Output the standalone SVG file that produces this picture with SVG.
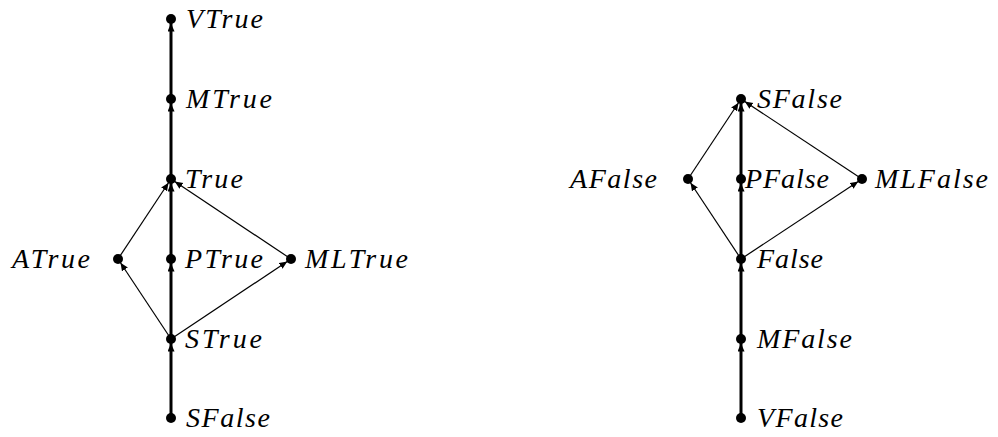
<svg xmlns="http://www.w3.org/2000/svg" width="998" height="437" viewBox="0 0 998 437">
<style>
.bg{fill:#fff}
.thick{stroke:#000;stroke-width:3;fill:none}
.thin{stroke:#000;stroke-width:1.2;fill:none}
.dot{fill:#000}
text{font-family:"Liberation Serif",serif;font-style:italic;font-size:28px;fill:#000}
</style>
<defs>
<marker id="ah" markerUnits="userSpaceOnUse" markerWidth="16" markerHeight="10" viewBox="0 0 16 10" refX="12.5" refY="3.5" orient="auto">
<path d="M0,0 L8,3.5 L0,7 z" fill="#000"/>
</marker>
</defs>
<rect class="bg" x="0" y="0" width="998" height="437"/>
<g id="connectors">
<line class="thick" x1="171" y1="418" x2="171" y2="339" marker-end="url(#ah)"/>
<line class="thick" x1="171" y1="339" x2="171" y2="259" marker-end="url(#ah)"/>
<line class="thick" x1="171" y1="259" x2="171" y2="179" marker-end="url(#ah)"/>
<line class="thick" x1="171" y1="179" x2="171" y2="99" marker-end="url(#ah)"/>
<line class="thick" x1="171" y1="99" x2="171" y2="19" marker-end="url(#ah)"/>
<line class="thin" x1="171" y1="339" x2="118" y2="259" marker-end="url(#ah)"/>
<line class="thin" x1="118" y1="259" x2="171" y2="179" marker-end="url(#ah)"/>
<line class="thin" x1="171" y1="339" x2="291" y2="259" marker-end="url(#ah)"/>
<line class="thin" x1="291" y1="259" x2="171" y2="179" marker-end="url(#ah)"/>
<line class="thick" x1="741" y1="418" x2="741" y2="339" marker-end="url(#ah)"/>
<line class="thick" x1="741" y1="339" x2="741" y2="259" marker-end="url(#ah)"/>
<line class="thick" x1="741" y1="259" x2="741" y2="179" marker-end="url(#ah)"/>
<line class="thick" x1="741" y1="179" x2="741" y2="99" marker-end="url(#ah)"/>
<line class="thin" x1="741" y1="259" x2="688" y2="179" marker-end="url(#ah)"/>
<line class="thin" x1="688" y1="179" x2="741" y2="99" marker-end="url(#ah)"/>
<line class="thin" x1="741" y1="259" x2="862" y2="179" marker-end="url(#ah)"/>
<line class="thin" x1="862" y1="179" x2="741" y2="99" marker-end="url(#ah)"/>
</g>
<g id="VTrue"><circle class="dot" cx="171" cy="19" r="5"/><text x="186" y="28" textLength="77" lengthAdjust="spacing">VTrue</text></g>
<g id="MTrue"><circle class="dot" cx="171" cy="99" r="5"/><text x="186" y="108" textLength="86" lengthAdjust="spacing">MTrue</text></g>
<g id="True"><circle class="dot" cx="171" cy="179" r="5"/><text x="185" y="188" textLength="58" lengthAdjust="spacing">True</text></g>
<g id="ATrue"><circle class="dot" cx="118" cy="259" r="5"/><text x="12" y="268" textLength="78" lengthAdjust="spacing">ATrue</text></g>
<g id="PTrue"><circle class="dot" cx="171" cy="259" r="5"/><text x="185" y="268" textLength="78" lengthAdjust="spacing">PTrue</text></g>
<g id="MLTrue"><circle class="dot" cx="291" cy="259" r="5"/><text x="305" y="268" textLength="103" lengthAdjust="spacing">MLTrue</text></g>
<g id="STrue"><circle class="dot" cx="171" cy="339" r="5"/><text x="185" y="348" textLength="77" lengthAdjust="spacing">STrue</text></g>
<g id="SFalseL"><circle class="dot" cx="171" cy="418" r="5"/><text x="186" y="427" textLength="84" lengthAdjust="spacing">SFalse</text></g>
<g id="SFalseR"><circle class="dot" cx="741" cy="99" r="5"/><text x="757" y="108" textLength="85" lengthAdjust="spacing">SFalse</text></g>
<g id="AFalse"><circle class="dot" cx="688" cy="179" r="5"/><text x="570" y="188" textLength="87" lengthAdjust="spacing">AFalse</text></g>
<g id="PFalse"><circle class="dot" cx="741" cy="179" r="5"/><text x="745" y="188" textLength="84" lengthAdjust="spacing">PFalse</text></g>
<g id="MLFalse"><circle class="dot" cx="862" cy="179" r="5"/><text x="875" y="188" textLength="113" lengthAdjust="spacing">MLFalse</text></g>
<g id="False"><circle class="dot" cx="741" cy="259" r="5"/><text x="757" y="268" textLength="66" lengthAdjust="spacing">False</text></g>
<g id="MFalse"><circle class="dot" cx="741" cy="339" r="5"/><text x="757" y="348" textLength="95" lengthAdjust="spacing">MFalse</text></g>
<g id="VFalse"><circle class="dot" cx="741" cy="418" r="5"/><text x="757" y="427" textLength="86" lengthAdjust="spacing">VFalse</text></g>
</svg>
